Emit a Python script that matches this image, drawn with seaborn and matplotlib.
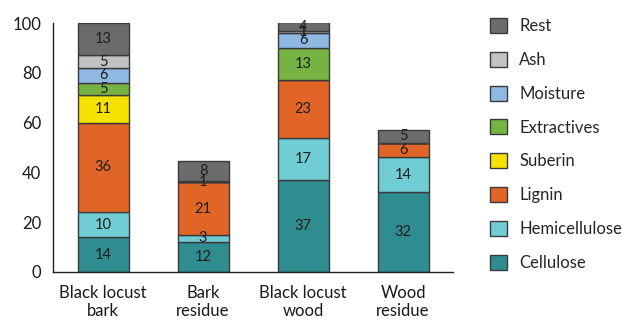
import matplotlib
matplotlib.use("Agg")
import matplotlib.pyplot as plt
from matplotlib.patches import Patch
import numpy as np
import pandas as pd
import seaborn as sns

# Samples along the x axis
samples = ["Black locust\nbark", "Bark\nresidue", "Black locust\nwood", "Wood\nresidue"]

# Composition (wt %) of each sample, stacked bottom to top
components = ["Cellulose", "Hemicellulose", "Lignin", "Suberin",
              "Extractives", "Moisture", "Ash", "Rest"]
cellulose     = [14, 12, 37, 32]
hemicellulose = [10, 3, 17, 14]
lignin        = [36, 21, 23, 6]
suberin       = [11, 0, 0, 0]
extractives   = [5, 0, 13, 0]
moisture      = [6, 0, 6, 0]
ash           = [5, 0.6, 0.6, 0]
rest          = [13, 8, 4, 5]

values = [cellulose, hemicellulose, lignin, suberin,
          extractives, moisture, ash, rest]

palette = {
    "Cellulose": "#2f8c8f",
    "Hemicellulose": "#6fcdd3",
    "Lignin": "#e06526",
    "Suberin": "#f5e200",
    "Extractives": "#76b343",
    "Moisture": "#8fb8e3",
    "Ash": "#c0c2c3",
    "Rest": "#6b6b6b",
}

sns.set_style("white")
plt.rcParams["font.family"] = ["Lato", "DejaVu Sans"]

fig = plt.figure(figsize=(6.22, 3.23), dpi=100)
ax = fig.add_axes([53 / 622, 51 / 323, 400 / 622, 249 / 323])

edge = "#3a3a3a"
bottom = np.zeros(len(samples))
for comp, vals in zip(components, values):
    df = pd.DataFrame({"sample": samples, "value": vals})
    sns.barplot(data=df, x="sample", y="value", order=samples,
                color=palette[comp], width=0.51, bottom=bottom.copy(),
                edgecolor=edge, linewidth=1.0, ax=ax, saturation=1)
    cont = ax.containers[-1]
    labels = [f"{v:.0f}" if v > 0 else "" for v in vals]
    ax.bar_label(cont, labels=labels, label_type="center",
                 fontsize=10.5, color="#1e1e1e")
    bottom += np.array(vals, dtype=float)

ax.set_xlim(-0.5, 3.5)
ax.set_ylim(0, 100)
ax.set_yticks([0, 20, 40, 60, 80, 100])
ax.set_xlabel("")
ax.set_ylabel("")
for s in ["top", "right"]:
    ax.spines[s].set_visible(False)
for s in ["left", "bottom"]:
    ax.spines[s].set_color("#222222")
    ax.spines[s].set_linewidth(1.0)
ax.tick_params(axis="both", direction="out", length=5, width=1,
               color="#222222", labelsize=12, labelcolor="#1a1a1a")
ax.tick_params(axis="x", pad=4)
for lbl in ax.get_xticklabels():
    lbl.set_linespacing(1.2)

handles = [Patch(facecolor=palette[c], edgecolor=edge, linewidth=1.0, label=c)
           for c in reversed(components)]
fig.legend(handles=handles, loc="upper left", bbox_to_anchor=(475 / 622, 1 - 3 / 323),
           frameon=False, fontsize=12, handlelength=1.0, handleheight=1.0,
           labelspacing=1.06, handletextpad=0.75)

fig.savefig("out.png", dpi=100)
